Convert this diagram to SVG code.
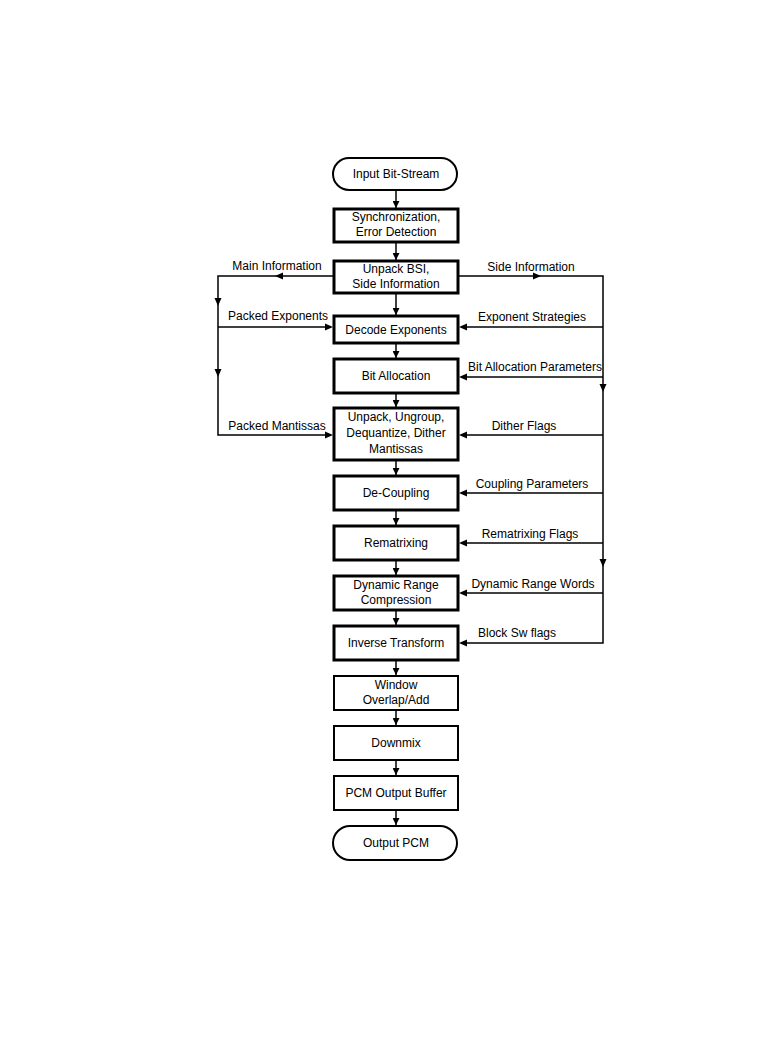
<svg xmlns="http://www.w3.org/2000/svg" width="777" height="1047" viewBox="0 0 777 1047">
<style>
.bx{fill:#fff;stroke:#000;stroke-width:3}
.bt{fill:#fff;stroke:#000;stroke-width:2}
.st{fill:#fff;stroke:#000;stroke-width:2}
text{font-family:"Liberation Sans",Arial,sans-serif;font-size:12px;fill:#000}
.c{text-anchor:middle}
.ln{fill:none;stroke:#000;stroke-width:1.5}
.ah{fill:#000;stroke:none}
</style>
<defs>
<marker id="a" viewBox="0 0 10 10" refX="10" refY="5" markerWidth="8" markerHeight="7" markerUnits="userSpaceOnUse" orient="auto"><path d="M0,0L10,5L0,10z" fill="#000"/></marker>
</defs>
<rect width="777" height="1047" fill="#fff"/>
<g id="connectors">
<line class="ln" x1="396" y1="190" x2="396" y2="208" marker-end="url(#a)"/>
<line class="ln" x1="396" y1="242" x2="396" y2="260" marker-end="url(#a)"/>
<line class="ln" x1="396" y1="293" x2="396" y2="315" marker-end="url(#a)"/>
<line class="ln" x1="396" y1="343" x2="396" y2="358" marker-end="url(#a)"/>
<line class="ln" x1="396" y1="393" x2="396" y2="407" marker-end="url(#a)"/>
<line class="ln" x1="396" y1="460" x2="396" y2="475" marker-end="url(#a)"/>
<line class="ln" x1="396" y1="510" x2="396" y2="525" marker-end="url(#a)"/>
<line class="ln" x1="396" y1="560" x2="396" y2="575" marker-end="url(#a)"/>
<line class="ln" x1="396" y1="610" x2="396" y2="625" marker-end="url(#a)"/>
<line class="ln" x1="396" y1="660" x2="396" y2="675" marker-end="url(#a)"/>
<line class="ln" x1="396" y1="710" x2="396" y2="725" marker-end="url(#a)"/>
<line class="ln" x1="396" y1="760" x2="396" y2="775" marker-end="url(#a)"/>
<line class="ln" x1="396" y1="810" x2="396" y2="825" marker-end="url(#a)"/>
<!-- left branch -->
<polyline class="ln" points="333,276 218,276 218,435 331,435"/>
<line class="ln" x1="218" y1="327" x2="331" y2="327"/>
<path class="ah" d="M275,276L283,272.5L283,279.5z"/>
<path class="ah" d="M218,306L214.5,298L221.5,298z"/>
<path class="ah" d="M218,377L214.5,369L221.5,369z"/>
<path class="ah" d="M333,327L325,323.5L325,330.5z"/>
<path class="ah" d="M333,435L325,431.5L325,438.5z"/>
<!-- right branch -->
<polyline class="ln" points="459,276 603,276 603,643 461,643"/>
<line class="ln" x1="603" y1="327" x2="461" y2="327"/>
<line class="ln" x1="603" y1="377" x2="461" y2="377"/>
<line class="ln" x1="603" y1="435" x2="461" y2="435"/>
<line class="ln" x1="603" y1="493" x2="461" y2="493"/>
<line class="ln" x1="603" y1="543" x2="461" y2="543"/>
<line class="ln" x1="603" y1="593" x2="461" y2="593"/>
<path class="ah" d="M541,276L533,272.5L533,279.5z"/>
<path class="ah" d="M603,392L599.5,384L606.5,384z"/>
<path class="ah" d="M603,567L599.5,559L606.5,559z"/>
<path class="ah" d="M459,327L467,323.5L467,330.5z"/>
<path class="ah" d="M459,377L467,373.5L467,380.5z"/>
<path class="ah" d="M459,435L467,431.5L467,438.5z"/>
<path class="ah" d="M459,493L467,489.5L467,496.5z"/>
<path class="ah" d="M459,543L467,539.5L467,546.5z"/>
<path class="ah" d="M459,593L467,589.5L467,596.5z"/>
<path class="ah" d="M459,643L467,639.5L467,646.5z"/>
<text x="277" y="270" class="c">Main Information</text>
<text x="531" y="271" class="c">Side Information</text>
<text x="278" y="320" class="c">Packed Exponents</text>
<text x="532" y="321" class="c">Exponent Strategies</text>
<text x="535" y="371" class="c">Bit Allocation Parameters</text>
<text x="277" y="430" class="c">Packed Mantissas</text>
<text x="524" y="430" class="c">Dither Flags</text>
<text x="532" y="488" class="c">Coupling Parameters</text>
<text x="530" y="538" class="c">Rematrixing Flags</text>
<text x="533" y="588" class="c">Dynamic Range Words</text>
<text x="517" y="637" class="c">Block Sw flags</text>
</g>
<g id="n_input"><rect class="st" x="333" y="158" width="124" height="32" rx="16"/><text x="396" y="178" class="c">Input Bit-Stream</text></g>
<g id="n_sync"><rect class="bx" x="334" y="209" width="124" height="33"/><text x="396" y="221" class="c">Synchronization,</text><text x="396" y="236" class="c">Error Detection</text></g>
<g id="n_unpackbsi"><rect class="bx" x="334" y="261" width="124" height="32"/><text x="396" y="273" class="c">Unpack BSI,</text><text x="396" y="288" class="c">Side Information</text></g>
<g id="n_decexp"><rect class="bx" x="334" y="316" width="124" height="27"/><text x="396" y="334" class="c">Decode Exponents</text></g>
<g id="n_bitalloc"><rect class="bx" x="334" y="359" width="124" height="34"/><text x="396" y="380" class="c">Bit Allocation</text></g>
<g id="n_unpackmant"><rect class="bx" x="334" y="408" width="124" height="52"/><text x="396" y="421" class="c">Unpack, Ungroup,</text><text x="396" y="437" class="c">Dequantize, Dither</text><text x="396" y="453" class="c">Mantissas</text></g>
<g id="n_decoupling"><rect class="bx" x="334" y="476" width="124" height="34"/><text x="396" y="497" class="c">De-Coupling</text></g>
<g id="n_remat"><rect class="bx" x="334" y="526" width="124" height="34"/><text x="396" y="547" class="c">Rematrixing</text></g>
<g id="n_drc"><rect class="bx" x="334" y="576" width="124" height="34"/><text x="396" y="589" class="c">Dynamic Range</text><text x="396" y="604" class="c">Compression</text></g>
<g id="n_imdct"><rect class="bx" x="334" y="626" width="124" height="34"/><text x="396" y="647" class="c">Inverse Transform</text></g>
<g id="n_window"><rect class="bt" x="334" y="676" width="124" height="34"/><text x="396" y="689" class="c">Window</text><text x="396" y="704" class="c">Overlap/Add</text></g>
<g id="n_downmix"><rect class="bt" x="334" y="726" width="124" height="34"/><text x="396" y="747" class="c">Downmix</text></g>
<g id="n_pcmbuf"><rect class="bt" x="334" y="776" width="124" height="34"/><text x="396" y="797" class="c">PCM Output Buffer</text></g>
<g id="n_output"><rect class="st" x="333" y="826" width="124" height="34" rx="17"/><text x="396" y="847" class="c">Output PCM</text></g>
</svg>
